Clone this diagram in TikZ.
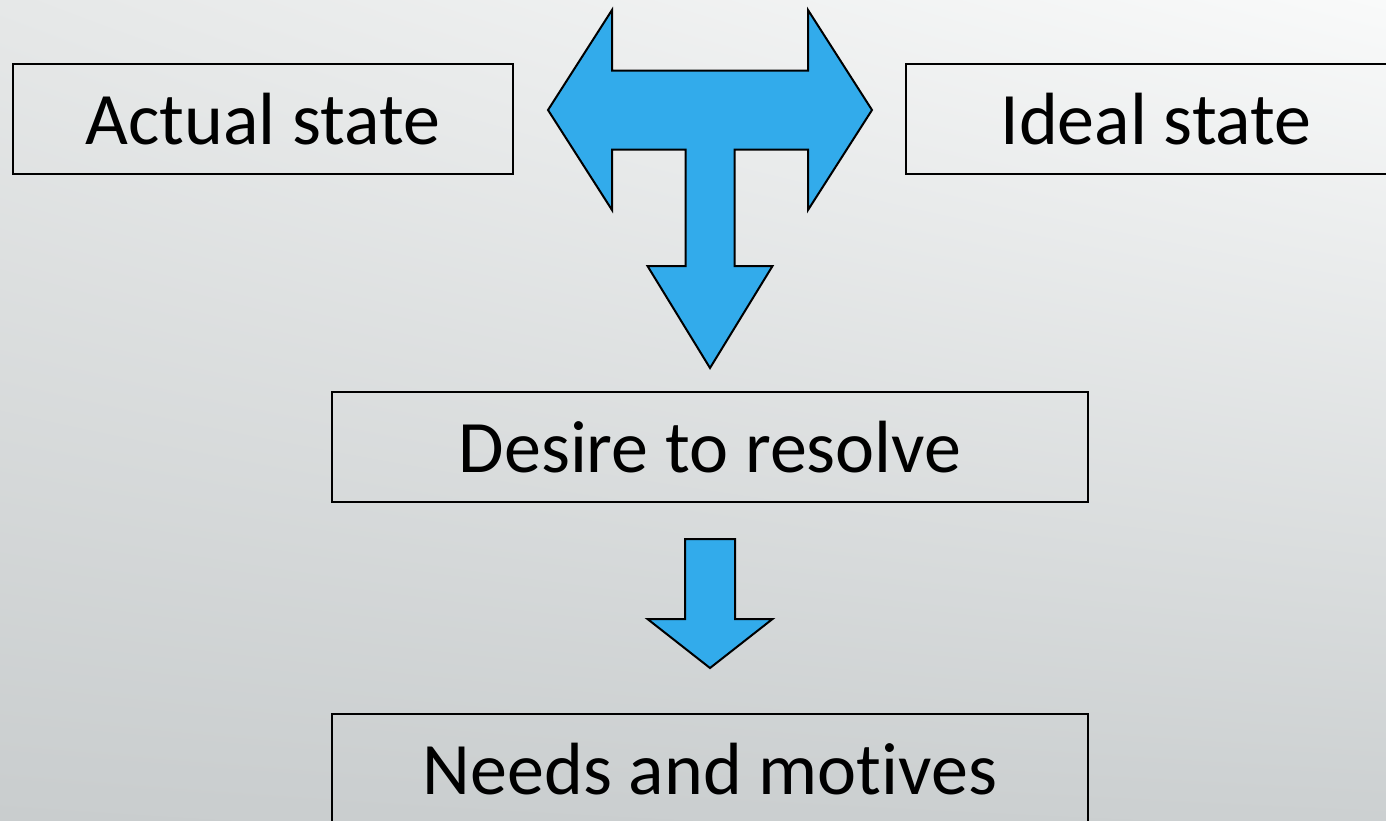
\documentclass[tikz,border=0pt]{standalone}
\usepackage{fontspec}
\setmainfont[Ligatures={NoCommon}]{Carlito}
\usetikzlibrary{shadings}

\definecolor{arrowblue}{HTML}{32ABEB}
\definecolor{bgtl}{HTML}{E6E8E8}
\definecolor{bgtr}{HTML}{F9FAFA}
\definecolor{bgbl}{HTML}{C9CDCE}
\definecolor{bgbr}{HTML}{CCD0D1}

\tikzset{
    statebox/.style={draw=black, line width=2pt, minimum width=500pt, minimum height=110pt, inner sep=0pt, font=\fontsize{74}{84}\selectfont},
    blockarrow/.style={draw=black, line width=2pt, fill=arrowblue}
}

\begin{document}
\begin{tikzpicture}[x=1pt,y=-1pt]
    \shade[upper left=bgtl, upper right=bgtr, lower left=bgbl, lower right=bgbr] (0,0) rectangle (1386,820);
    \useasboundingbox (0,0) rectangle (1386,820);

    \node[statebox] (actual) at (263,119) {Actual state};
    \node[statebox] (ideal) at (1156,119) {Ideal state};

    \node[statebox, minimum width=756pt] (desire) at (710,447) {Desire to resolve};
    \node[statebox, minimum width=756pt] (needs) at (710,769) {Needs and motives};

    \coordinate (tee) at (710,110);
    \coordinate (push) at (710,539);

    \begin{scope}[shift={(tee)}]
        \draw[blockarrow] (-162,0) -- (-98,-100) -- (-98,-39.5) -- (98,-39.5) -- (98,-100) -- (162,0)
            -- (98,100) -- (98,39.5) -- (24.5,39.5) -- (24.5,156) -- (62.5,156) -- (0,258)
            -- (-62.5,156) -- (-24.5,156) -- (-24.5,39.5) -- (-98,39.5) -- (-98,100) -- cycle;
    \end{scope}

    \begin{scope}[shift={(push)}]
        \draw[blockarrow] (-25,0) -- (25,0) -- (25,80) -- (62.5,80) -- (0,129) -- (-62.5,80) -- (-25,80) -- cycle;
    \end{scope}
\end{tikzpicture}
\end{document}
